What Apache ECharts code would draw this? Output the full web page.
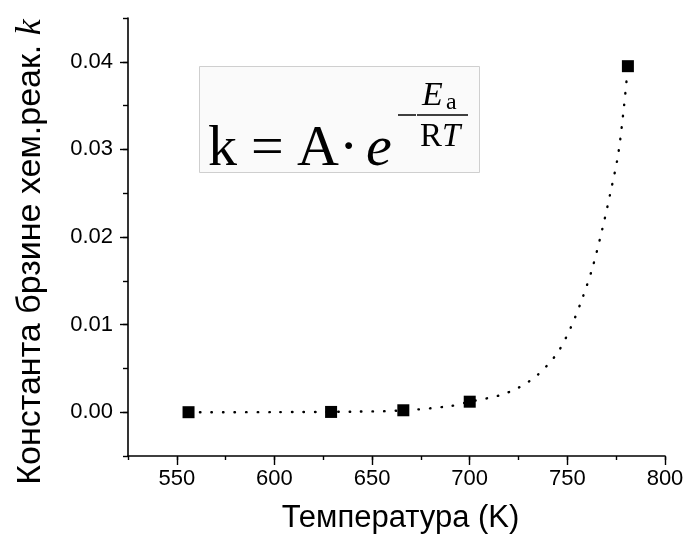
<!DOCTYPE html>
<html>
<head>
<meta charset="utf-8">
<script src="https://cdn.jsdelivr.net/npm/echarts@6/dist/echarts.min.js"></script>
<style>html,body{margin:0;padding:0;background:#fff;}#c{width:687px;height:539px;}</style>
</head>
<body>
<div id="c"></div>
<script>
// Measured points
const temps = [556, 629, 666, 700, 781];
const kValues = [0.0000, 0.00003, 0.00022, 0.0012, 0.0395];
// Dotted fit curve
const fitTemps = [556, 600, 640, 666, 690, 700, 715, 725, 735, 745, 752, 758, 763, 768, 772, 776, 779, 781];
const fitK = [0, 0.00001, 0.00006, 0.0002, 0.0007, 0.0012, 0.0019, 0.0028, 0.0043, 0.0068, 0.0098, 0.0132, 0.0166, 0.0210, 0.0250, 0.0294, 0.0349, 0.0395];
// Axis ticks
const xMajorTicks = [550, 600, 650, 700, 750, 800];
const yMajorTicks = [0.00, 0.01, 0.02, 0.03, 0.04];
const xTitle = 'Температура (K)';
const yTitle = 'Константа брзине хем.реак. ';
const yTitleVar = 'k';

const chart = echarts.init(document.getElementById('c'), null, {renderer: 'canvas'});
const SANS = '"Liberation Sans", Arial, sans-serif';
const SERIF = '"Liberation Serif", "Times New Roman", serif';
const axisLine = {show: true, onZero: false, lineStyle: {color: '#000', width: 1.6}};

const option = {
  animation: false,
  backgroundColor: '#fff',
  grid: [
    {left: 128, right: 22, top: 18, bottom: 82},
    {left: 176.8, right: 22, top: 18, bottom: 82},
    {left: 128, right: 22, top: 61.8, bottom: 126.8}
  ],
  xAxis: [
    {gridIndex: 0, type: 'value', min: 525, max: 800, interval: 25,
     axisLine: axisLine, axisTick: {show: true, length: 4, lineStyle: {color: '#000', width: 1.4}},
     axisLabel: {show: false}, splitLine: {show: false},
     name: xTitle, nameLocation: 'middle', nameGap: 47,
     nameTextStyle: {fontFamily: SANS, fontSize: 31, color: '#000', padding: [0, 0, 0, 8]}},
    {gridIndex: 1, type: 'value', min: xMajorTicks[0], max: xMajorTicks[xMajorTicks.length-1], interval: 50,
     axisLine: {show: false, onZero: false}, axisTick: {show: true, length: 8, lineStyle: {color: '#000', width: 1.4}},
     axisLabel: {show: true, margin: 11, fontFamily: SANS, fontSize: 22, color: '#000'},
     splitLine: {show: false}},
    {gridIndex: 2, type: 'value', min: 0, max: 1, show: false}
  ],
  yAxis: [
    {gridIndex: 0, type: 'value', min: -0.005, max: 0.045, interval: 0.005,
     axisLine: axisLine, axisTick: {show: true, length: 5, lineStyle: {color: '#000', width: 1.4}},
     axisLabel: {show: false}, splitLine: {show: false},
     name: '{t|' + yTitle + '}{k|' + yTitleVar + '}', nameLocation: 'middle', nameGap: 79, nameRotate: 90,
     nameTextStyle: {padding: [0, 30, 0, 0], rich: {
       t: {fontFamily: SANS, fontSize: 34, color: '#000'},
       k: {fontFamily: SERIF, fontStyle: 'italic', fontSize: 36, color: '#000'}
     }}},
    {gridIndex: 1, type: 'value', min: 0, max: 1, show: false},
    {gridIndex: 2, type: 'value', min: yMajorTicks[0], max: yMajorTicks[yMajorTicks.length-1], interval: 0.01,
     axisLine: {show: false, onZero: false}, axisTick: {show: true, length: 8, lineStyle: {color: '#000', width: 1.4}},
     axisLabel: {show: true, margin: 15, fontFamily: SANS, fontSize: 22, color: '#000',
                 formatter: v => v.toFixed(2)},
     splitLine: {show: false}}
  ],
  series: [
    {type: 'line', xAxisIndex: 0, yAxisIndex: 0, smooth: 0.3, showSymbol: false,
     data: fitTemps.map((t, i) => [t, fitK[i]]),
     lineStyle: {color: '#000', width: 2.4, type: [0.5, 11], cap: 'round'}, z: 2},
    {type: 'scatter', xAxisIndex: 0, yAxisIndex: 0, symbol: 'rect', symbolSize: 12,
     data: temps.map((t, i) => [t, kValues[i]]),
     itemStyle: {color: '#000', opacity: 1}, z: 5}
  ],
  graphic: [
    {type: 'rect', shape: {x: 199.5, y: 66.5, width: 280, height: 106}, style: {fill: '#fafafa', stroke: '#cfcfcf', lineWidth: 1}, z: 10},
    {type: 'text', x: 208, y: 149.5, style: {text: 'k', font: '58px ' + SERIF, fill: '#000', verticalAlign: 'middle'}, z: 11},
    {type: 'text', x: 251, y: 149.5, style: {text: '=', font: '58px ' + SERIF, fill: '#000', verticalAlign: 'middle'}, z: 11},
    {type: 'text', x: 297, y: 149.5, style: {text: 'A', font: '58px ' + SERIF, fill: '#000', verticalAlign: 'middle'}, z: 11},
    {type: 'text', x: 339, y: 149.5, style: {text: '·', font: '58px ' + SERIF, fill: '#000', verticalAlign: 'middle'}, z: 11},
    {type: 'text', x: 366, y: 149.5, style: {text: 'e', font: 'italic 58px ' + SERIF, fill: '#000', verticalAlign: 'middle'}, z: 11},
    {type: 'line', shape: {x1: 398, y1: 115, x2: 416, y2: 115}, style: {stroke: '#000', lineWidth: 1.5}, z: 11},
    {type: 'line', shape: {x1: 417, y1: 115, x2: 468, y2: 115}, style: {stroke: '#000', lineWidth: 1.5}, z: 11},
    {type: 'text', x: 422, y: 96, style: {text: 'E', font: 'italic 34px ' + SERIF, fill: '#000', verticalAlign: 'middle'}, z: 11},
    {type: 'text', x: 446, y: 103, style: {text: 'a', font: '24px ' + SERIF, fill: '#000', verticalAlign: 'middle'}, z: 11},
    {type: 'text', x: 420, y: 137, style: {text: 'R', font: '33px ' + SERIF, fill: '#000', verticalAlign: 'middle'}, z: 11},
    {type: 'text', x: 442, y: 137, style: {text: 'T', font: 'italic 33px ' + SERIF, fill: '#000', verticalAlign: 'middle'}, z: 11}
  ]
};
chart.setOption(option);
</script>
</body>
</html>
